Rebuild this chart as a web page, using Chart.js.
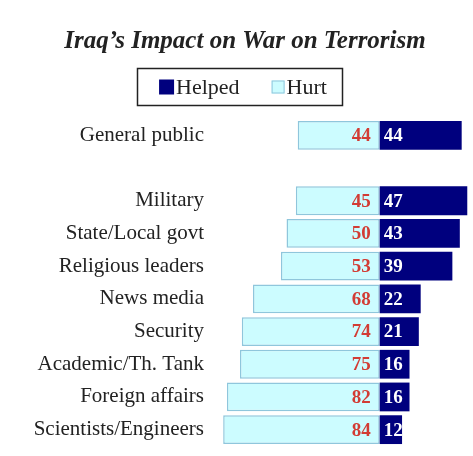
<!DOCTYPE html>
<html>
<head>
<meta charset="utf-8">
<script src="https://cdn.jsdelivr.net/npm/chart.js@4"></script>
<style>
  html, body { margin: 0; padding: 0; background: #fff; }
  #wrap { width: 473px; height: 456px; }
</style>
</head>
<body>
<div id="wrap"><canvas id="chart" width="473" height="456"></canvas></div>
<script>
// Iraq's impact on war on terrorism - helped vs hurt by group
const chartTitle = 'Iraq’s Impact on War on Terrorism';
const groups = ['General public', '', 'Military', 'State/Local govt', 'Religious leaders',
  'News media', 'Security', 'Academic/Th. Tank', 'Foreign affairs', 'Scientists/Engineers'];
const helped = [44, null, 47, 43, 39, 22, 21, 16, 16, 12];
const hurt = [44, null, 45, 50, 53, 68, 74, 75, 82, 84];

const NAVY = '#00007e';
const LIGHT = '#ccfcff';
const LIGHT_EDGE = '#8fc6dc';

// value labels inside the bars
const valueLabels = {
  id: 'valueLabels',
  afterDatasetsDraw(chart) {
    const ctx = chart.ctx;
    ctx.save();
    ctx.font = 'bold 19px "Liberation Serif"';
    ctx.textBaseline = 'middle';
    chart.data.datasets.forEach((ds, i) => {
      const meta = chart.getDatasetMeta(i);
      meta.data.forEach((bar, j) => {
        const v = ds.data[j];
        if (v === null) return;
        const txt = String(Math.abs(v));
        if (v < 0) {
          ctx.fillStyle = '#d23c34';
          ctx.textAlign = 'right';
          ctx.fillText(txt, bar.base - 9, bar.y + 1);
        } else {
          ctx.fillStyle = '#ffffff';
          ctx.textAlign = 'left';
          ctx.fillText(txt, bar.base + 4, bar.y + 1);
        }
      });
    });
    ctx.restore();
  }
};

// title + boxed legend above the plot
const header = {
  id: 'header',
  afterDraw(chart) {
    const ctx = chart.ctx;
    ctx.save();
    ctx.fillStyle = '#222';
    ctx.textAlign = 'center';
    ctx.textBaseline = 'middle';
    ctx.font = 'italic bold 25px "Liberation Serif"';
    ctx.fillText(chartTitle, 245, 42);

    ctx.font = '22px "Liberation Serif"';
    const items = chart.data.datasets.map(ds => ({
      text: ds.label, fill: ds.backgroundColor, edge: ds.borderColor
    }));
    const sq = 15, gap = 2, itemGap = 30;
    let total = 0;
    items.forEach((it, k) => {
      it.w = ctx.measureText(it.text).width;
      total += sq + gap + it.w + (k ? itemGap : 0);
    });
    const cx = 243, cy = 87;
    let x = cx - total / 2;
    ctx.strokeStyle = '#222';
    ctx.lineWidth = 1.5;
    ctx.strokeRect(137.5, 68.5, 205, 37);
    items.forEach((it, k) => {
      if (k) x += itemGap;
      const s = it.edge !== it.fill ? 13 : sq;
      ctx.fillStyle = it.fill;
      ctx.fillRect(x + (sq - s), cy - s / 2, s, s);
      if (it.edge !== it.fill) {
        ctx.strokeStyle = it.edge;
        ctx.lineWidth = 1;
        ctx.strokeRect(x + (sq - s) + 0.5, cy - s / 2 + 0.5, s - 1, s - 1);
      }
      x += sq + gap;
      ctx.fillStyle = '#222';
      ctx.textAlign = 'left';
      ctx.fillText(it.text, x, cy + 1);
      x += it.w;
    });
    ctx.restore();
  }
};

const ctx = document.getElementById('chart').getContext('2d');
const myChart = new Chart(ctx, {
  type: 'bar',
  data: {
    labels: groups,
    datasets: [{
      label: 'Helped',
      data: helped,
      backgroundColor: NAVY,
      borderColor: NAVY,
      borderWidth: 0,
      barPercentage: 0.88,
      categoryPercentage: 1
    }, {
      label: 'Hurt',
      data: hurt.map(v => v === null ? null : -v),
      backgroundColor: LIGHT,
      borderColor: LIGHT_EDGE,
      borderWidth: 1.5,
      borderSkipped: false,
      barPercentage: 0.88,
      categoryPercentage: 1
    }]
  },
  options: {
    indexAxis: 'y',
    responsive: false,
    animation: false,
    layout: { padding: { top: 119, right: 2, bottom: 10, left: 0 } },
    scales: {
      x: {
        stacked: true,
        display: false,
        min: -90,
        max: 49
      },
      y: {
        stacked: true,
        grid: { display: false, drawTicks: false },
        border: { display: false },
        ticks: {
          padding: 8,
          color: '#222',
          font: { family: 'Liberation Serif', size: 21 }
        },
        afterFit(scale) {
          scale.width = 212;
          scale.paddingTop = 0;
          scale.paddingBottom = 0;
        }
      }
    },
    plugins: {
      legend: { display: false },
      tooltip: { enabled: false },
      title: { display: false }
    }
  },
  plugins: [valueLabels, header]
});
</script>
</body>
</html>
